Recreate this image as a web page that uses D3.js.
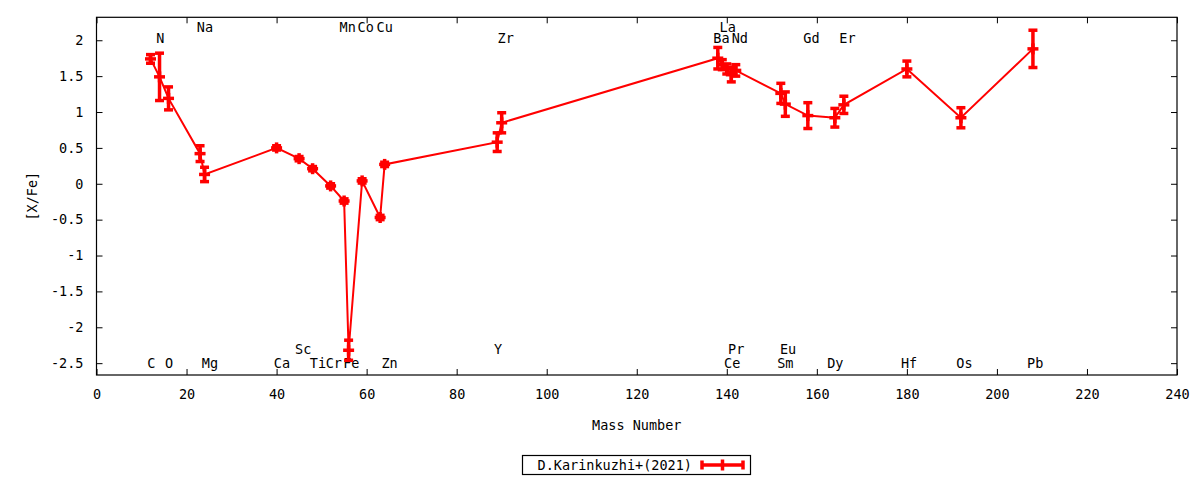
<!DOCTYPE html>
<html>
<head>
<meta charset="utf-8">
<script src="https://cdn.jsdelivr.net/npm/d3@7"></script>
<style>
  body { margin: 0; background: #fff; }
  text { font-family: "DejaVu Sans Mono", monospace; font-size: 13.5px; fill: #000; }
</style>
</head>
<body>
<div id="chart"></div>
<script>
// points: element, mass number, [X/Fe], error
var elements = ["C","N","O","Na","Mg","Ca","Sc","Ti","Cr","Mn","Fe","Co","Cu","Zn","Y","Zr",
                "Ba","La","Ce","Pr","Nd","Sm","Eu","Gd","Dy","Er","Hf","Os","Pb"];
var massNumber = [12,14,16,23,24,40,45,48,52,55,56,59,63,64,89,90,
                  138,139,140,141,142,152,153,158,164,166,180,192,208];
var xFe = [1.74,1.49,1.19,0.42,0.13,0.50,0.35,0.21,-0.03,-0.24,-2.32,0.04,-0.47,0.27,0.58,0.85,
           1.75,1.66,1.60,1.52,1.58,1.26,1.11,0.95,0.92,1.10,1.60,0.92,1.88];
var xFeErr = [0.06,0.33,0.16,0.11,0.10,0.03,0.03,0.03,0.03,0.03,0.14,0.03,0.03,0.03,0.13,0.14,
              0.15,0.07,0.07,0.10,0.08,0.14,0.17,0.18,0.13,0.12,0.11,0.14,0.26];

// element name labels (x in mass units, y in [X/Fe] units)
var labelNames = ["C","N","O","Na","Mg","Ca","Sc","Ti","Cr","Mn","Fe","Co","Cu","Zn","Y","Zr",
                  "Ba","La","Ce","Pr","Nd","Sm","Eu","Gd","Dy","Er","Hf","Os","Pb"];
var labelX = [12.2,14.2,16.1,24.1,25.2,41.2,45.9,49.2,52.7,55.8,56.6,59.8,64.0,65.1,89.2,90.9,
              138.8,140.2,141.2,142.1,142.9,153.0,153.6,158.8,164.1,166.8,180.5,192.8,208.5];
var labelY = [-2.5,2.03,-2.5,2.18,-2.5,-2.5,-2.31,-2.5,-2.5,2.18,-2.5,2.18,2.18,-2.5,-2.31,2.03,
              2.03,2.18,-2.5,-2.31,2.03,-2.5,-2.31,2.03,-2.5,2.03,-2.5,-2.5,-2.5];

var xTicks = d3.range(0, 241, 20);
var yTicks = [-2.5,-2,-1.5,-1,-0.5,0,0.5,1,1.5,2];
var seriesName = "D.Karinkuzhi+(2021)";

var W = 1200, H = 480;
var plotL = 96.5, plotR = 1177, plotT = 17.3, plotB = 375;

var svg = d3.select("#chart").append("svg")
    .attr("width", W)
    .attr("height", H);

var x = d3.scaleLinear().domain([0, 240]).range([plotL, plotR]);
var y = d3.scaleLinear().domain([-2.665, 2.32]).range([plotB, plotT]);

svg.append("g").attr("transform", "translate(0," + plotB + ")")
    .call(d3.axisBottom(x).tickValues(xTicks).tickSize(-6).tickPadding(14).tickFormat(d3.format("d")));
svg.append("g").attr("transform", "translate(0," + plotT + ")")
    .call(d3.axisTop(x).tickValues(xTicks).tickSize(-6).tickFormat(""));
svg.append("g").attr("transform", "translate(" + plotL + ",0)")
    .call(d3.axisLeft(y).tickValues(yTicks).tickSize(-6).tickPadding(13).tickFormat(function(d) { return String(d); }));
svg.append("g").attr("transform", "translate(" + plotR + ",0)")
    .call(d3.axisRight(y).tickValues(yTicks).tickSize(-6).tickFormat(""));

svg.selectAll(".domain").remove();
svg.selectAll(".tick line").attr("stroke", "#000").attr("stroke-width", 1);
svg.selectAll(".tick text").style("font-family", "DejaVu Sans Mono").style("font-size", "13.5px").attr("fill", "#000");

svg.append("rect")
    .attr("x", plotL).attr("y", plotT)
    .attr("width", plotR - plotL).attr("height", plotB - plotT)
    .attr("fill", "none").attr("stroke", "#000").attr("stroke-width", 1.2);

svg.append("text")
    .attr("transform", "translate(32," + (plotT + plotB) / 2 + ") rotate(-90)")
    .attr("text-anchor", "middle").attr("dy", "0.35em")
    .text("[X/Fe]");
svg.append("text")
    .attr("x", (plotL + plotR) / 2).attr("y", 425)
    .attr("text-anchor", "middle").attr("dy", "0.35em")
    .text("Mass Number");

// element labels
svg.append("g").selectAll("text").data(labelNames).enter().append("text")
    .attr("x", function(d, i) { return x(labelX[i]); })
    .attr("y", function(d, i) { return y(labelY[i]); })
    .attr("text-anchor", "middle").attr("dy", "0.35em")
    .text(function(d) { return d; });

var red = "#ff0000";
var pts = d3.range(elements.length);

var line = d3.line()
    .x(function(i) { return x(massNumber[i]); })
    .y(function(i) { return y(xFe[i]); });

svg.append("path").datum(pts)
    .attr("d", line)
    .attr("fill", "none").attr("stroke", red).attr("stroke-width", 2);

var g = svg.append("g").attr("stroke", red).attr("stroke-width", 3.5);
var cap = 4.5, arm = 5.5;
pts.forEach(function(i) {
  var cx = x(massNumber[i]), cy = y(xFe[i]);
  var y1 = y(xFe[i] + xFeErr[i]), y2 = y(xFe[i] - xFeErr[i]);
  g.append("line").attr("x1", cx).attr("x2", cx).attr("y1", y1).attr("y2", y2);
  g.append("line").attr("x1", cx - cap).attr("x2", cx + cap).attr("y1", y1).attr("y2", y1);
  g.append("line").attr("x1", cx - cap).attr("x2", cx + cap).attr("y1", y2).attr("y2", y2);
  g.append("line").attr("x1", cx - arm).attr("x2", cx + arm).attr("y1", cy).attr("y2", cy);
  g.append("line").attr("x1", cx).attr("x2", cx).attr("y1", cy - arm).attr("y2", cy + arm);
});

// legend
var lg = svg.append("g");
lg.append("rect").attr("x", 522.5).attr("y", 455.5).attr("width", 228).attr("height", 19)
    .attr("fill", "#fff").attr("stroke", "#000").attr("stroke-width", 1.2);
lg.append("text").attr("x", 692).attr("y", 465).attr("text-anchor", "end").attr("dy", "0.35em")
    .text(seriesName);
var lx1 = 702, lx2 = 743, ly = 465;
lg.append("line").attr("x1", lx1).attr("x2", lx2).attr("y1", ly).attr("y2", ly)
    .attr("stroke", red).attr("stroke-width", 3.5);
[lx1, lx2].forEach(function(px) {
  lg.append("line").attr("x1", px).attr("x2", px).attr("y1", ly - 4.5).attr("y2", ly + 4.5)
      .attr("stroke", red).attr("stroke-width", 3.5);
});
lg.append("line").attr("x1", (lx1 + lx2) / 2).attr("x2", (lx1 + lx2) / 2).attr("y1", ly - arm).attr("y2", ly + arm)
    .attr("stroke", red).attr("stroke-width", 3.5);
</script>
</body>
</html>
